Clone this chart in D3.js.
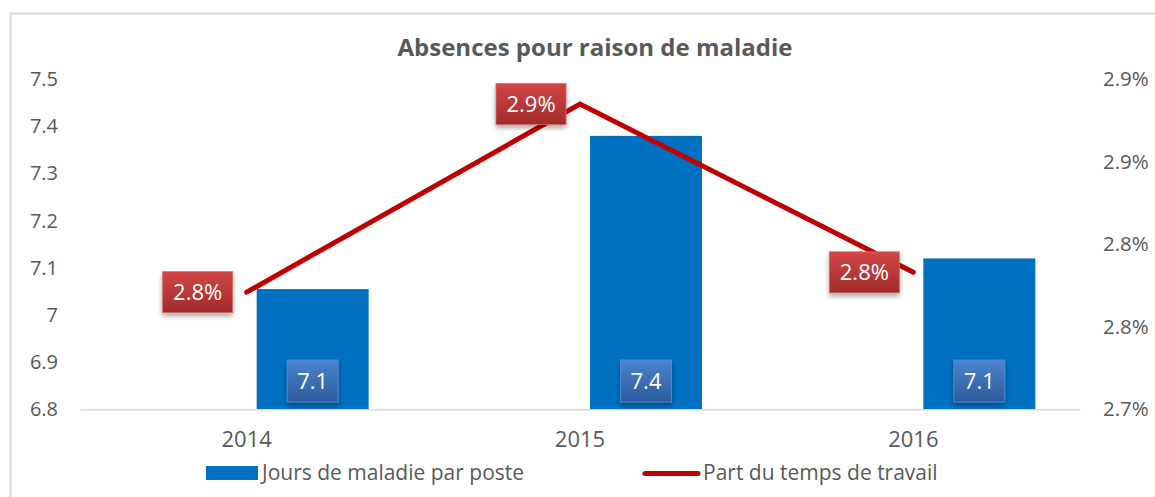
<!DOCTYPE html>
<html>
<head>
<meta charset="utf-8">
<title>Absences pour raison de maladie</title>
<style>
body { margin: 0; background: #fff; }
text { font-family: "Open Sans", sans-serif; }
</style>
<script src="https://cdn.jsdelivr.net/npm/d3@7"></script>
</head>
<body>
<script>
// data
var years = ["2014", "2015", "2016"];
var jours = [7.055, 7.38, 7.12];            // Jours de maladie par poste
var part = [0.02771, 0.02885, 0.02783];     // Part du temps de travail
var leftTicks = [6.8, 6.9, 7.0, 7.1, 7.2, 7.3, 7.4, 7.5];
var rightTicks = [0.027, 0.0275, 0.028, 0.0285, 0.029];
var rightTickLabels = ["2.7%", "2.8%", "2.8%", "2.9%", "2.9%"];
var seriesNames = ["Jours de maladie par poste", "Part du temps de travail"];

var W = 1155, H = 497;
var x0 = 80, x1 = 1080, yTop = 79.3, yBot = 409.3;
var grey = "#595959";
var font = "'Open Sans', sans-serif";

var svg = d3.select("body").append("svg")
    .attr("width", W)
    .attr("height", H);

var defs = svg.append("defs");
var gr = defs.append("linearGradient").attr("id", "gRed").attr("x1", 0).attr("y1", 0).attr("x2", 0).attr("y2", 1);
gr.append("stop").attr("offset", "0%").attr("stop-color", "#d24646");
gr.append("stop").attr("offset", "100%").attr("stop-color", "#a02b2b");
var gb = defs.append("linearGradient").attr("id", "gBlue").attr("x1", 0).attr("y1", 0).attr("x2", 0).attr("y2", 1);
gb.append("stop").attr("offset", "0%").attr("stop-color", "#4a85cf");
gb.append("stop").attr("offset", "100%").attr("stop-color", "#2c5b9c");
defs.append("filter").attr("id", "shadow").attr("x", "-30%").attr("y", "-30%").attr("width", "160%").attr("height", "170%")
  .append("feDropShadow").attr("dx", 0).attr("dy", 3).attr("stdDeviation", 2.5)
  .attr("flood-color", "#000").attr("flood-opacity", 0.35);

// chart border
svg.append("rect")
    .attr("x", 10.5).attr("y", 13.5)
    .attr("width", 1160).attr("height", 500)
    .attr("fill", "#fff").attr("stroke", "#d9d9d9").attr("stroke-width", 2);

// title
svg.append("text")
    .attr("x", 595).attr("y", 56)
    .attr("text-anchor", "middle")
    .attr("font-size", 24).attr("font-weight", "bold")
    .attr("fill", grey)
    .text("Absences pour raison de maladie");

var x = d3.scaleBand().domain(years).range([x0, x1]);
var yL = d3.scaleLinear().domain([6.8, 7.5]).range([yBot, yTop]);
var yR = d3.scaleLinear().domain([0.027, 0.029]).range([yBot, yTop]);

function cx(d) { return x(d) + x.bandwidth() / 2; }
var barOff = 10, barW = 112;

// left axis
var axL = svg.append("g")
    .attr("transform", "translate(" + (x0 - 22) + ",0)")
    .call(d3.axisLeft(yL).tickValues(leftTicks).tickSize(0).tickPadding(0)
      .tickFormat(function(d) { return String(+d.toFixed(1)); }));
axL.select(".domain").remove();
axL.selectAll("text").attr("font-size", 20).attr("fill", grey).attr("font-family", font);

// right axis
var axR = svg.append("g")
    .attr("transform", "translate(" + (x1 + 23) + ",0)")
    .call(d3.axisRight(yR).tickValues(rightTicks).tickSize(0).tickPadding(0)
      .tickFormat(function(d, i) { return rightTickLabels[i]; }));
axR.select(".domain").remove();
axR.selectAll("text").attr("font-size", 20.5).attr("fill", grey).attr("font-family", font);

// bars
svg.selectAll(".bar")
    .data(years)
    .enter().append("rect")
    .attr("class", "bar")
    .attr("x", function(d) { return cx(d) + barOff; })
    .attr("y", function(d, i) { return yL(jours[i]); })
    .attr("width", barW)
    .attr("height", function(d, i) { return yBot - yL(jours[i]); })
    .attr("fill", "#0070c0");

// x axis
var axB = svg.append("g")
    .attr("transform", "translate(0," + yBot + ")")
    .call(d3.axisBottom(x).tickSize(0).tickPadding(22));
axB.select(".domain").attr("stroke", "#d9d9d9").attr("stroke-width", 1.5);
axB.selectAll("text").attr("font-size", 22).attr("fill", grey).attr("font-family", font);

// line
var line = d3.line()
    .x(function(d) { return cx(d); })
    .y(function(d, i) { return yR(part[i]); });
svg.append("path")
    .datum(years)
    .attr("d", line)
    .attr("fill", "none")
    .attr("stroke", "#c00000")
    .attr("stroke-width", 5)
    .attr("stroke-linecap", "round")
    .attr("stroke-linejoin", "miter");

// bar labels
var fmtBar = d3.format(".1f");
var bl = svg.selectAll(".blab").data(years).enter().append("g").attr("class", "blab")
    .attr("transform", function(d) { return "translate(" + (cx(d) + barOff + barW / 2) + ",381)"; });
bl.append("rect")
    .attr("x", -25.5).attr("y", -21).attr("width", 51).attr("height", 42)
    .attr("fill", "url(#gBlue)").attr("stroke", "#5b8fd3").attr("stroke-width", 0.8)
    .attr("filter", "url(#shadow)");
bl.append("text")
    .attr("text-anchor", "middle").attr("dy", "0.36em")
    .attr("font-size", 22).attr("fill", "#fff")
    .text(function(d, i) { return fmtBar(jours[i]); });

// line labels
var fmtPct = d3.format(".1%");
var ll = svg.selectAll(".llab").data(years).enter().append("g").attr("class", "llab")
    .attr("transform", function(d, i) { return "translate(" + (cx(d) - 49) + "," + yR(part[i]) + ")"; });
ll.append("rect")
    .attr("x", -35).attr("y", -20.5).attr("width", 70).attr("height", 41)
    .attr("fill", "url(#gRed)").attr("stroke", "#d96a6a").attr("stroke-width", 0.8)
    .attr("filter", "url(#shadow)");
ll.append("text")
    .attr("text-anchor", "middle").attr("dy", "0.36em")
    .attr("font-size", 22).attr("fill", "#fff")
    .text(function(d, i) { return fmtPct(part[i]); });

// legend
var lg = svg.append("g").attr("font-size", 21).attr("fill", grey);
lg.append("rect").attr("x", 206).attr("y", 466).attr("width", 52).attr("height", 14).attr("fill", "#0070c0");
lg.append("text").attr("x", 262).attr("y", 480).attr("fill", grey).text(seriesNames[0]);
lg.append("line").attr("x1", 645).attr("x2", 698).attr("y1", 473.5).attr("y2", 473.5)
    .attr("stroke", "#c00000").attr("stroke-width", 5).attr("stroke-linecap", "round");
lg.append("text").attr("x", 703).attr("y", 480).attr("fill", grey).text(seriesNames[1]);
</script>
</body>
</html>
